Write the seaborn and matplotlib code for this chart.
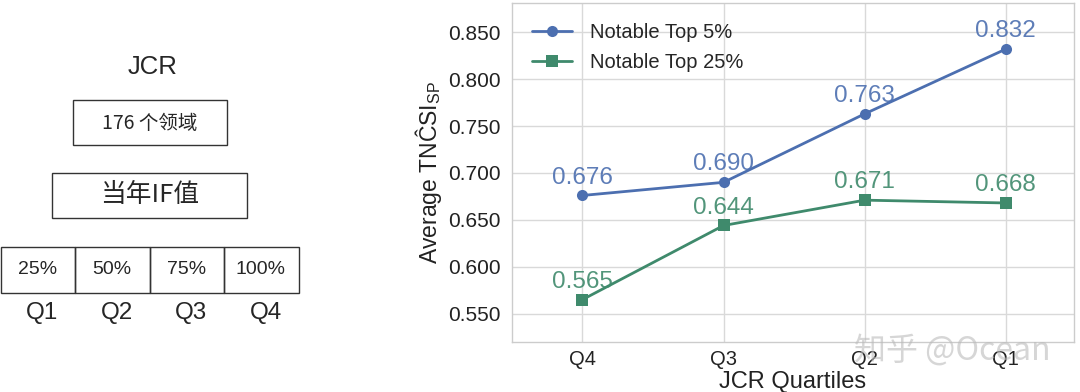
import numpy as np
import pandas as pd
import matplotlib
matplotlib.use('Agg')
import matplotlib.pyplot as plt
from matplotlib.patches import Rectangle
import seaborn as sns

# data
quartiles = ['Q4', 'Q3', 'Q2', 'Q1']
top5 = [0.676, 0.690, 0.763, 0.832]
top25 = [0.565, 0.644, 0.671, 0.668]
series_names = ['Notable Top 5%', 'Notable Top 25%']
cell_labels = ['25%', '50%', '75%', '100%']
cell_q = ['Q1', 'Q2', 'Q3', 'Q4']
yticks = [0.550, 0.600, 0.650, 0.700, 0.750, 0.800, 0.850]

sns.set_theme(style='whitegrid')
plt.rcParams['font.family'] = ['Liberation Sans', 'Noto Sans CJK SC', 'DejaVu Sans']
plt.rcParams['mathtext.fontset'] = 'custom'
plt.rcParams['mathtext.rm'] = 'Liberation Sans'
plt.rcParams['mathtext.it'] = 'Liberation Sans'

blue = '#4c6fb0'
green = '#3f8a6c'
cjk = ['Noto Sans CJK SC', 'DejaVu Sans']

df = pd.DataFrame({
    'quartile': quartiles * 2,
    'value': top5 + top25,
    'series': [series_names[0]] * 4 + [series_names[1]] * 4,
})

fig = plt.figure(figsize=(10.8, 3.92), dpi=100)

# left diagram, drawn in pixel-like coords
ax0 = fig.add_axes([0, 0, 0.3, 1])
ax0.set_xlim(0, 324)
ax0.set_ylim(392, 0)
ax0.axis('off')
ax0.text(153, 67, 'JCR', ha='center', va='center', fontsize=18.5)
ax0.add_patch(Rectangle((73, 100), 154, 45, fill=False, ec='#333333', lw=1))
ax0.text(150, 123, '176 个领域', ha='center', va='center', fontsize=14, family=cjk)
ax0.add_patch(Rectangle((52, 173), 195, 45, fill=False, ec='#333333', lw=1))
ax0.text(150, 195, '当年IF值', ha='center', va='center', fontsize=18.5, family=cjk)
cw = 298 / 4
for i, (lab, q) in enumerate(zip(cell_labels, cell_q)):
    ax0.add_patch(Rectangle((i * cw + 0.5, 247), cw, 46, fill=False, ec='#333333', lw=1))
    ax0.text(i * cw + cw / 2, 270, lab, ha='center', va='center', fontsize=14)
    ax0.text(i * cw + cw / 2 + 5, 313, q, ha='center', va='center', fontsize=17.5)

# right line chart
ax = fig.add_axes([0.474, 0.128, 0.520, 0.864])
sns.lineplot(data=df, x='quartile', y='value', hue='series', style='series',
             markers=['o', 's'], dashes=False, palette=[blue, green],
             markersize=8, linewidth=2, markeredgewidth=0, ax=ax)

for vals, c in [(top5, blue), (top25, green)]:
    for i, v in enumerate(vals):
        ax.annotate(f'{v:.3f}', (i, v), xytext=(0, 5), textcoords='offset points',
                    ha='center', va='bottom', fontsize=17.5, color=c, alpha=0.9)

ax.set_xlim(-0.5, 3.48)
ax.set_ylim(0.520, 0.881)
ax.set_yticks(yticks)
ax.set_yticklabels([f'{t:.3f}' for t in yticks])
ax.tick_params(axis='y', labelsize=15, colors='#222222', pad=2)
ax.tick_params(axis='x', labelsize=14.5, colors='#222222', pad=0)
ax.set_xlabel('JCR Quartiles', fontsize=17, color='#222222', labelpad=1)
ax.set_ylabel('Average TNĈSI$_{\\mathrm{SP}}$', fontsize=16.5, color='#222222', labelpad=3)
ax.grid(color='#d9d9d9', linewidth=1)
for s in ax.spines.values():
    s.set_color('#cccccc')
    s.set_linewidth(1)
leg = ax.legend(loc='upper left', fontsize=14.5, frameon=False,
                handlelength=2.0, handletextpad=0.9, borderaxespad=0.6,
                labelspacing=0.55)

# watermark
fig.text(0.882, 0.107, '知乎 @Ocean', ha='center', va='center', fontsize=23,
         color='#bbbbbb', alpha=0.6, family=cjk)

fig.savefig('out.png', dpi=100)
